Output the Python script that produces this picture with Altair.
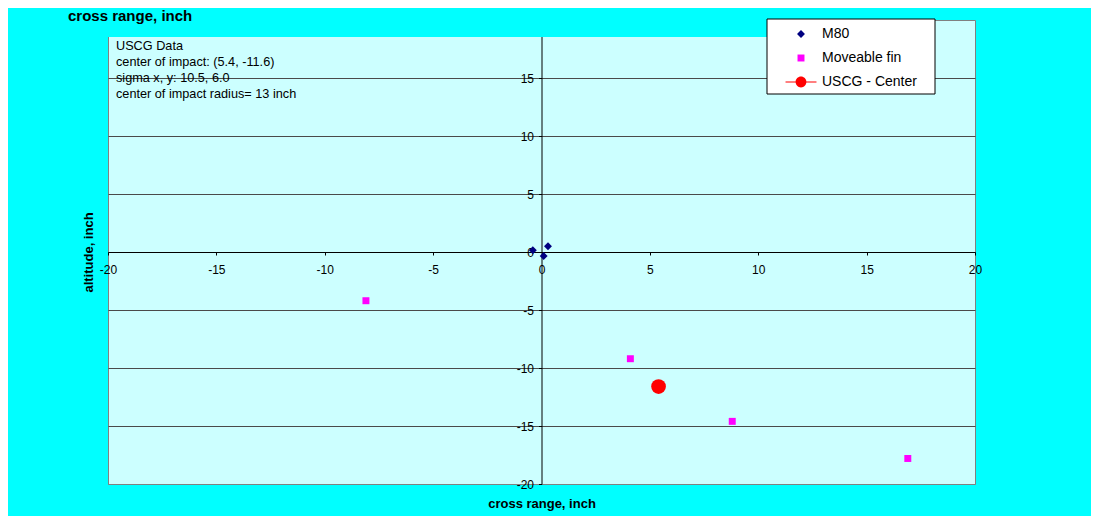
import altair as alt
import pandas as pd

# ---- data ----
m80_x = [-0.4, 0.1, 0.3]
m80_y = [0.15, -0.35, 0.5]
fin_x = [-8.1, 4.1, 8.8, 16.9]
fin_y = [-4.2, -9.2, -14.6, -17.8]
center_x = [5.4]
center_y = [-11.6]
series_names = ["M80", "Moveable fin", "USCG - Center"]
series_colors = ["#000080", "#FF00FF", "#FF0000"]
x_ticks = [-20, -15, -10, -5, 0, 5, 10, 15, 20]
y_ticks = [-20, -15, -10, -5, 0, 5, 10, 15]
note_lines = [
    "USCG Data",
    "center of impact: (5.4, -11.6)",
    "sigma x, y: 10.5, 6.0",
    "center of impact radius= 13 inch",
]
chart_title = "cross range, inch"
x_title = "cross range, inch"
y_title = "altitude, inch"

FONT = "Liberation Sans"

pts = pd.DataFrame(
    {
        "x": m80_x + fin_x,
        "y": m80_y + fin_y,
        "series": [series_names[0]] * len(m80_x) + [series_names[1]] * len(fin_x),
    }
)
ctr = pd.DataFrame({"x": center_x, "y": center_y, "series": [series_names[2]]})
one = pd.DataFrame({"t": [chart_title], "note": ["\n".join(note_lines)]})

DIAMOND = "M0,-0.33 L0.33,0 L0,0.33 L-0.33,0 Z"
SQUARE = "M-0.29,-0.29 L0.29,-0.29 L0.29,0.29 L-0.29,0.29 Z"
LINE_CIRCLE = (
    "M-1.29,-0.045 L1.29,-0.045 L1.29,0.045 L-1.29,0.045 Z "
    "M0.45,0 A0.45,0.45 0 1,1 -0.45,0 A0.45,0.45 0 1,1 0.45,0 Z"
)

W, H = 867, 464

x_enc = alt.X(
    "x:Q",
    scale=alt.Scale(domain=[-20, 20], nice=False, zero=False),
    axis=alt.Axis(
        values=x_ticks,
        labelExpr="'' + datum.value",
        grid=False,
        offset=-H / 2,
        domainColor="black",
        tickColor="black",
        tickSize=3,
        labelPadding=9,
        labelFontSize=12,
        labelColor="black",
        labelFlush=False,
        labelOverlap=False,
        title=x_title,
        titleFontSize=13,
        titleFontWeight="bold",
        titleColor="black",
        titleX=W / 2,
        titleY=251,
        titleBaseline="middle",
        titleAlign="center",
    ),
)
y_enc = alt.Y(
    "y:Q",
    scale=alt.Scale(domain=[-20, 20], nice=False, zero=False),
    axis=alt.Axis(
        values=y_ticks,
        labelExpr="'' + datum.value",
        grid=True,
        gridColor={"condition": {"test": "datum.value === -20", "value": "#808080"}, "value": "#4a4a4a"},
        offset=-433.5,
        domainColor="black",
        tickColor="black",
        tickSize=3,
        labelPadding=5,
        labelFontSize=12,
        labelColor="black",
        labelFlush=False,
        labelOverlap=False,
        title=y_title,
        titleFontSize=13,
        titleFontWeight="bold",
        titleColor="black",
        titleX=-453.5,
        titleY=H / 2,
        titleAngle=270,
        titleBaseline="middle",
        titleAlign="center",
    ),
)
legend_opts = dict(
    orient="none",
    legendX=681,
    legendY=2,
    title=None,
    padding=0,
    labelFontSize=14,
    labelColor="black",
    labelOffset=9,
    symbolSize=576,
    symbolStrokeWidth=0,
    rowPadding=5,
)
color_enc = alt.Color(
    "series:N",
    scale=alt.Scale(domain=series_names, range=series_colors),
    legend=alt.Legend(**legend_opts),
)
shape_enc = alt.Shape(
    "series:N",
    scale=alt.Scale(domain=series_names, range=[DIAMOND, SQUARE, LINE_CIRCLE]),
    legend=alt.Legend(**legend_opts),
)

band = alt.Chart(one).mark_rect(color="#00FFFF").encode(
    x=alt.value(-100), x2=alt.value(683), y=alt.value(-12), y2=alt.value(17)
)
legend_box = alt.Chart(one).mark_rect(fill="white", stroke="black", strokeWidth=1).encode(
    x=alt.value(659), x2=alt.value(827), y=alt.value(-1), y2=alt.value(74)
)
title_txt = alt.Chart(one).mark_text(
    align="left", baseline="alphabetic", fontSize=15, fontWeight="bold", color="black", font=FONT
).encode(x=alt.value(-40), y=alt.value(0.5), text="t:N")
note_txt = alt.Chart(one).mark_text(
    align="left", baseline="alphabetic", fontSize=12.7, lineHeight=16, lineBreak="\n", color="black", font=FONT
).encode(x=alt.value(8), y=alt.value(30), text="note:N")

points = alt.Chart(pts).mark_point(filled=True, size=576, opacity=1, strokeWidth=0).encode(
    x=x_enc, y=y_enc, color=color_enc, shape=shape_enc
)
center = alt.Chart(ctr).mark_point(filled=True, size=216, opacity=1, shape="circle", strokeWidth=0).encode(
    x=x_enc, y=y_enc, color=color_enc
)

chart = (
    alt.layer(band, legend_box, title_txt, note_txt, points, center)
    .properties(
        width=W,
        height=H,
        padding={"left": 100, "top": 12, "right": 116, "bottom": 32},
        autosize=alt.AutoSizeParams(type="none"),
        background="#00FFFF",
    )
    .configure_view(fill="#CCFFFF", stroke="#808080")
    .configure_axis(labelFont=FONT, titleFont=FONT)
    .configure_legend(labelFont=FONT)
    .configure_text(font=FONT)
)

chart.save("out.html", embed_options={"renderer": "svg", "actions": False})
